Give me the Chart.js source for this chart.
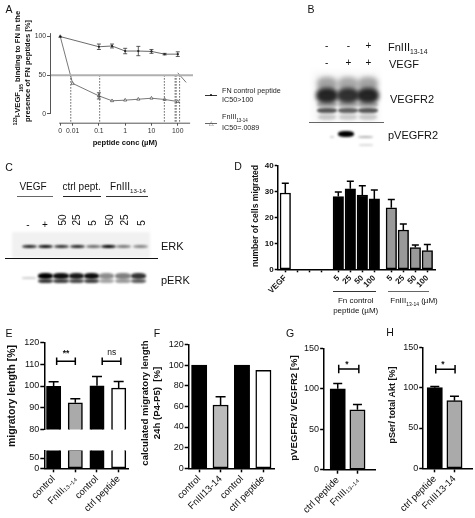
<!DOCTYPE html>
<html>
<head>
<meta charset="utf-8">
<style>
  html, body { margin: 0; padding: 0; background: #fff; }
  #page { position: relative; width: 475px; height: 518px; overflow: hidden; font-family: "Liberation Sans", Arial, sans-serif; color: #111; filter: blur(0.4px); }
  #page canvas { position: absolute; }
  .t { position: absolute; white-space: nowrap; line-height: 1; }
  .t sub, .t sup { font-size: 0.62em; line-height: 0; }
  .r { position: absolute; }
</style>
<script src="https://cdn.jsdelivr.net/npm/chart.js@4/dist/chart.umd.js"></script>
</head>
<body>
<div id="page"></div>
<script>
/* ── Data ─────────────────────────────────────────────── */
// A: log10 of the concentration, with the "0" tick parked left of 0.01
const aTickPos = [-2.47, -2, -1, 0, 1, 2];
const aTickLabels = ['0', '0.01', '0.1', '1', '10', '100'];
const aYTicks = [0, 50, 100];
const fnConc = [-2.47, -1, -0.5, 0, 0.5, 1, 1.5, 2];
const fnValues = [99.6, 86.5, 87.5, 81, 81, 80.5, 77, 77];
const fnErrs = [0, 3.5, 2.5, 3.5, 6, 2.5, 1, 3];
const fn1314Conc = [-2.47, -2, -1, -0.5, 0, 0.5, 1, 1.5, 2];
const fn1314Values = [99.6, 39.4, 23.3, 17, 17.8, 19, 20.3, 18.7, 16];
const fn1314Errs = [0, 0, 4, 0, 0, 0, 0, 0, 0];
const ic50Drops = [-2.07, -0.97, 1.49, 1.9, 1.94, 2.07];

// D
const dLabels = ['VEGF', '', '', '', '5', '25', '50', '100', '5', '25', '50', '100'];
const dValues = [29.5, null, null, null, 28.1, 31.1, 28.7, 27.2, 23.8, 15.2, 8.4, 7.2];
const dErrs = [3.8, 0, 0, 0, 1.8, 2.9, 3.6, 3.4, 3.2, 2.3, 1, 2.4];

// E
const eLabels = ['control', 'FnIII₁₃₋₁₄', 'control', 'ctrl peptide'];
const eValues = [99.9, 92.3, 100.1, 99];
const eErrs = [2, 1.8, 4.3, 3.1];

// F
const fLabels = ['control', 'FnIII13-14', 'control', 'ctrl peptide'];
const fValues = [100, 61.3, 100, 95];
const fErrs = [0, 8, 0, 0];

// G
const gLabels = ['ctrl peptide', 'FnIII₁₃₋₁₄'];
const gValues = [100, 74];
const gErrs = [6.5, 6.5];

// H
const hLabels = ['ctrl peptide', 'FnIII13-14'];
const hValues = [100, 83.9];
const hErrs = [1.6, 5.4];

// blots: how dark each lane is
const erkBands = [0.85, 0.95, 0.8, 0.85, 0.55, 1, 0.5, 0.45];
const perkBands = [1, 0.95, 0.9, 0.95, 0.45, 0.5, 0.8];
const vegfr2Bands = [0.85, 0.8, 0.85];

/* ── Helpers ──────────────────────────────────────────── */
Chart.defaults.font.family = '"Liberation Sans", Arial, sans-serif';
Chart.defaults.color = '#111';
Chart.defaults.animation = false;

const page = document.getElementById('page');

function text(html, x, y, size, opts = {}) {
    const d = document.createElement('div');
    d.className = 't';
    d.innerHTML = html;
    const ax = opts.anchor === 'left' ? '0' : '-50%';
    d.style.cssText = `left:${x}px;top:${y}px;font-size:${size}px;font-weight:${opts.bold ? 700 : 400};` +
        `transform:translate(${ax},-50%) rotate(${opts.rot || 0}deg);color:${opts.color || '#111'}`;
    page.appendChild(d);
}

function rect(x, y, w, h, bg, extra = '') {
    const d = document.createElement('div');
    d.className = 'r';
    d.style.cssText = `left:${x}px;top:${y}px;width:${w}px;height:${h}px;background:${bg};${extra}`;
    page.appendChild(d);
}

function band(cx, cy, w, h, alpha, blur = 1) {
    rect(cx - w / 2, cy - h / 2, w, h, `rgba(0,0,0,${alpha})`, `border-radius:40%;filter:blur(${blur}px)`);
}

// box = plot area on the page, pad = room round it for the axes
function makeChart(box, pad, config) {
    const [l, t, r, b] = box;
    const [pl, pt, pr, pb] = pad;
    const cx = Math.floor(l - pl), cy = Math.floor(t - pt);
    const canvas = document.createElement('canvas');
    canvas.style.left = cx + 'px';
    canvas.style.top = cy + 'px';
    canvas.width = Math.ceil(r + pr - cx);
    canvas.height = Math.ceil(b + pb - cy);
    page.appendChild(canvas);

    const o = config.options;
    o.responsive = false;
    o.layout = { autoPadding: false, padding: { top: t - cy, right: canvas.width - (r - cx), bottom: o.scales.x.display === false ? canvas.height - (b - cy) : 0, left: 0 } };
    o.scales.y.afterFit = s => { s.width = l - cx; };
    if (o.scales.x.display !== false) o.scales.x.afterFit = s => { s.height = canvas.height - (b - cy); };
    o.plugins = { legend: { display: false }, tooltip: { enabled: false } };
    return new Chart(canvas, config);
}

const errorBars = {
    id: 'errorBars',
    afterDatasetsDraw(chart) {
        const y = chart.scales.y, c = chart.ctx;
        chart.data.datasets.forEach((ds, di) => {
            if (!ds.errs) return;
            const pts = chart.getDatasetMeta(di).data;
            c.save();
            c.strokeStyle = ds.errColor || '#000';
            c.lineWidth = ds.errWidth || 1.5;
            ds.errs.forEach((e, i) => {
                const v = ds.data[i].y;
                if (!e || v === null) return;
                const x = pts[i].x, cap = ds.capW / 2;
                const top = y.getPixelForValue(v + e);
                const bot = ds.errBoth ? y.getPixelForValue(v - e) : y.getPixelForValue(v);
                c.beginPath();
                c.moveTo(x, bot); c.lineTo(x, top);
                c.moveTo(x - cap, top); c.lineTo(x + cap, top);
                if (ds.errBoth) { c.moveTo(x - cap, bot); c.lineTo(x + cap, bot); }
                c.stroke();
            });
            c.restore();
        });
    }
};

function brackets(list) {
    return {
        id: 'brackets',
        afterDatasetsDraw(chart) {
            const { x, y } = chart.scales, c = chart.ctx;
            c.save();
            c.strokeStyle = '#000';
            c.lineWidth = 1.5;
            list.forEach(([from, to, val, h]) => {
                const x0 = x.getPixelForValue(from), x1 = x.getPixelForValue(to), py = y.getPixelForValue(val);
                c.beginPath();
                c.moveTo(x0, py); c.lineTo(x1, py);
                c.moveTo(x0, py - h / 2); c.lineTo(x0, py + h / 2);
                c.moveTo(x1, py - h / 2); c.lineTo(x1, py + h / 2);
                c.stroke();
            });
            c.restore();
        }
    };
}

function barPanel(p) {
    const xs = p.positions || p.values.map((_, i) => i);
    const showX = p.labels !== null;
    return makeChart(p.box, p.pad, {
        type: 'bar',
        data: {
            datasets: [{
                data: p.values.map((v, i) => ({ x: xs[i], y: v })),
                errs: p.errs,
                capW: p.capW || 10,
                barThickness: p.thick,
                backgroundColor: p.colors,
                borderColor: '#000',
                borderWidth: p.borderW || 1.5,
                borderSkipped: false,
            }]
        },
        options: {
            scales: {
                x: {
                    type: 'linear', display: showX, offset: false, min: p.xRange[0], max: p.xRange[1],
                    afterBuildTicks: s => { s.ticks = xs.map(v => ({ value: v })); },
                    grid: { display: true, offset: false, drawOnChartArea: false, tickLength: p.tickLen || 4, tickWidth: 1.5, tickColor: '#000' },
                    border: { color: '#000', width: 1.5 },
                    ticks: {
                        autoSkip: false, minRotation: 45, maxRotation: 45, padding: 1, color: '#111',
                        font: { size: p.xFont || 9.5, weight: p.bold ? 'bold' : 'normal' },
                        callback: (v, i) => showX ? p.labels[i] : '',
                    },
                },
                y: {
                    min: p.yRange[0], max: p.yRange[1],
                    afterBuildTicks: s => { s.ticks = p.yTicks.map(v => ({ value: v })); },
                    grid: { display: true, drawOnChartArea: false, tickLength: p.tickLen || 4, tickWidth: 1.5, tickColor: '#000' },
                    border: { color: '#000', width: 1.5 },
                    ticks: { padding: 1, color: '#111', font: { size: p.yFont || 9, weight: p.bold ? 'bold' : 'normal' } },
                },
            },
        },
        plugins: [errorBars, brackets(p.brackets || [])],
    });
}

/* ── A: binding curves ────────────────────────────────── */
const aAxisLines = {
    id: 'aAxisLines',
    afterDraw(chart) {
        const { x, y } = chart.scales, c = chart.ctx;
        c.save();
        c.strokeStyle = '#555';
        c.lineWidth = 1;
        c.beginPath();
        c.moveTo(x.left + 0.5, y.getPixelForValue(104));
        c.lineTo(x.left + 0.5, y.getPixelForValue(0));
        c.moveTo(x.getPixelForValue(-2.51), y.bottom + 0.5);
        c.lineTo(x.getPixelForValue(2.47), y.bottom + 0.5);
        c.stroke();
        c.restore();
    }
};

const toXY = (xs, ys) => xs.map((v, i) => ({ x: v, y: ys[i] }));

makeChart([50, 30, 193, 122.7], [20, 2, 6, 16], {
    type: 'line',
    data: {
        datasets: [
            { data: toXY([-2.86, 2.58], [50, 50]), borderColor: '#b0b0b0', borderWidth: 2, pointRadius: 0 },
            { data: toXY([2, 2.32], [53, 40.6]), borderColor: '#555', borderWidth: 0.8, pointRadius: 0 },
            ...ic50Drops.map(v => ({ data: toXY([v, v], [50, -11.2]), borderColor: '#333', borderWidth: 0.8, borderDash: [1.5, 1.5], pointRadius: 0 })),
            {
                data: toXY(fnConc, fnValues), errs: fnErrs, errBoth: true, capW: 4, errWidth: 0.8, errColor: '#333',
                borderColor: '#444', borderWidth: 0.8, pointRadius: 1.1, pointBorderWidth: 0, pointBackgroundColor: '#111',
            },
            {
                data: toXY(fn1314Conc, fn1314Values), errs: fn1314Errs, errBoth: true, capW: 4, errWidth: 0.8, errColor: '#333',
                borderColor: '#555', borderWidth: 0.8, pointStyle: 'triangle', pointRadius: 1.8, pointBackgroundColor: '#fff', pointBorderColor: '#444', pointBorderWidth: 0.7,
            },
        ]
    },
    options: {
        scales: {
            x: {
                type: 'linear', min: -2.86, max: 2.58,
                afterBuildTicks: s => { s.ticks = aTickPos.map(v => ({ value: v })); },
                grid: { display: true, drawOnChartArea: false, tickLength: 3, tickColor: '#555' },
                border: { display: false },
                ticks: { autoSkip: false, maxRotation: 0, padding: 1, color: '#333', font: { size: 6.8 }, callback: (v, i) => aTickLabels[i] },
            },
            y: {
                min: -11.2, max: 104.1,
                afterBuildTicks: s => { s.ticks = aYTicks.map(v => ({ value: v })); },
                grid: { display: true, drawOnChartArea: false, tickLength: 3, tickColor: '#555' },
                border: { display: false },
                ticks: { padding: 1, color: '#333', font: { size: 6.8 } },
            },
        },
    },
    plugins: [errorBars, aAxisLines],
});

text('<sup>123</sup>I-VEGF<sub>165</sub> binding to FN in the', 17.5, 68, 7.6, { bold: true, rot: -90 });
text('presence of FN peptides [%]', 28, 71, 7.6, { bold: true, rot: -90 });
text('peptide conc (µM)', 125, 143, 7.6, { bold: true });

// legend
rect(205, 95, 12, 0.8, '#333');
rect(209.7, 94, 2.4, 2.4, '#111', 'border-radius:50%');
text('FN control peptide', 222, 91, 7.2, { anchor: 'left', color: '#222' });
text('IC50&gt;100', 222, 100, 7.2, { anchor: 'left', color: '#222' });
rect(205, 123, 12, 0.8, '#666');
text('△', 211, 123.2, 6, { color: '#555' });
text('FnIII<sub>13-14</sub>', 222, 117, 7.2, { anchor: 'left', color: '#222' });
text('IC50=.0089', 222, 128, 7.2, { anchor: 'left', color: '#222' });

/* ── B: VEGFR2 blot ───────────────────────────────────── */
const bLanes = [326.7, 348.3, 368.3];
rect(313, 72, 66, 50, '#f6f6f6', 'filter:blur(3px)');
bLanes.forEach((x, i) => {
    const a = vegfr2Bands[i];
    band(x, 84, 20, 14, a * 0.4, 2.5);
    band(x, 95, 22, 15, a, 2);
    band(x, 104, 20, 7, a * 0.35, 1.5);
    band(x, 110.5, 20, 5, a * 0.75, 1.2);
    band(x, 117, 18, 6, a * 0.22, 1.5);
});
band(346.3, 134, 16, 6.5, 1, 0.9);
band(332, 137, 4, 2, 0.2, 0.8);
band(365, 136.7, 15, 2, 0.3, 0.8);
band(366, 145, 14, 1.5, 0.15, 0.8);
rect(309, 122, 75, 1.3, '#666');
[['-', '-', '+'], ['-', '+', '+']].forEach((row, r) => {
    row.forEach((s, i) => text(s, bLanes[i], r === 0 ? 46 : 63, 10));
});
text('FnIII<sub>13-14</sub>', 388, 46.5, 11, { anchor: 'left' });
text('VEGF', 389, 64, 11, { anchor: 'left' });
text('VEGFR2', 390, 99, 11, { anchor: 'left' });
text('pVEGFR2', 388, 134.5, 11, { anchor: 'left' });

/* ── C: ERK blot ──────────────────────────────────────── */
const cErkLanes = [29, 45.7, 61.3, 77.3, 93.3, 108, 123.7, 140.3];
const cPerkLanes = [45.7, 61, 76.7, 91.7, 106.7, 123, 138.7];
text('VEGF', 33, 187.3, 10);
text('ctrl pept.', 81.7, 187.3, 10);
text('FnIII<sub>13-14</sub>', 128, 187.3, 10);
rect(17, 196, 36, 1.3, '#666');
rect(62.7, 196, 38, 1.3, '#222');
rect(106, 196, 42, 1.3, '#333');
text('-', 28, 225, 10);
text('+', 45, 225, 10);
['50', '25', '5', '50', '25', '5'].forEach((s, i) => {
    text(s, [63.3, 77.3, 93.3, 110, 125, 141.7][i], s === '5' ? 223 : 220, 10, { rot: -90 });
});
rect(12, 232, 138, 26, '#f1f1f1', 'filter:blur(1.5px)');
erkBands.forEach((a, i) => band(cErkLanes[i], 246.7, 15, 3.6, a, 0.8));
rect(5, 258.3, 152.7, 1, '#111');
band(29, 278, 14, 1.5, 0.2, 0.8);
perkBands.forEach((a, i) => {
    band(cPerkLanes[i], 276, 15.5, 5.5, a, 1.1);
    band(cPerkLanes[i], 281, 15.5, 4.5, a * 0.8, 1.1);
});
text('ERK', 161, 246, 11, { anchor: 'left' });
text('pERK', 161, 280, 11, { anchor: 'left' });

/* ── D: migrated cells ────────────────────────────────── */
const dShift = 5 / 12;
barPanel({
    box: [277.7, 164, 435.7, 269.3], pad: [25, 4, 4, 34],
    labels: dLabels, values: dValues, errs: dErrs,
    positions: dValues.map((_, i) => i + (i >= 4 ? dShift : 0) + (i >= 8 ? dShift : 0)),
    colors: ['#fff', '#fff', '#fff', '#fff', '#000', '#000', '#000', '#000', '#999', '#999', '#999', '#999'],
    thick: 10.5, capW: 7, xRange: [-0.633, 12.53], yRange: [0, 40], yTicks: [0, 10, 20, 30, 40],
    bold: true, xFont: 8, yFont: 8, tickLen: 3,
});
text('number of cells migrated', 255, 216, 8.6, { bold: true, rot: -90 });
rect(333, 291.2, 43, 1.2, '#333');
rect(388, 291.2, 41, 1.2, '#666');
text('Fn control', 355.7, 300.5, 8);
text('peptide (µM)', 355.7, 310.5, 8);
text('FnIII<sub>13-14</sub> (µM)', 414, 300.5, 8);

/* ── E: migratory length, broken axis ─────────────────── */
const eColors = ['#000', '#aaa', '#000', '#fff'];
barPanel({
    box: [44.3, 340.3, 128, 433.7], pad: [25, 4, 4, 2],
    labels: null, values: eValues, errs: eErrs, colors: eColors,
    thick: 14.3, capW: 10, xRange: [-0.43, 3.43], yRange: [80, 120], yTicks: [80, 90, 100, 110, 120],
    brackets: [[0.14, 1, 111.3, 7.5], [2.24, 3.1, 111.3, 7.5]],
});
barPanel({
    box: [44.3, 444, 128, 468.3], pad: [25, 0, 4, 55],
    labels: eLabels, values: eValues, errs: null, colors: eColors,
    thick: 14.3, xRange: [-0.43, 3.43], yRange: [0, 87], yTicks: [0, 50],
});
text('migratory length [%]', 11, 396, 10.5, { bold: true, rot: -90 });
text('**', 66, 353, 8.5, { bold: true });
text('ns', 111.7, 352, 8.5);

/* ── F: calculated migratory length ───────────────────── */
barPanel({
    box: [188.7, 342, 274.3, 468.3], pad: [25, 4, 4, 55],
    labels: fLabels, values: fValues, errs: fErrs, colors: ['#000', '#bbb', '#000', '#fff'],
    thick: 15.3, capW: 10, xRange: [-0.49, 3.51], yRange: [0, 120], yTicks: [0, 20, 40, 60, 80, 100, 120],
});
text('calculated migratory length', 145, 403, 9.6, { bold: true, rot: -90 });
text('24h (P4-P5)&nbsp; [%]', 156.7, 403, 9.6, { bold: true, rot: -90 });

/* ── G: pVEGFR2 ───────────────────────────────────────── */
barPanel({
    box: [322.7, 346.7, 375, 469.7], pad: [25, 4, 4, 48],
    labels: gLabels, values: gValues, errs: gErrs, colors: ['#000', '#aaa'],
    thick: 15.3, capW: 9, xRange: [-0.69, 1.89], yRange: [0, 150], yTicks: [0, 50, 100, 150],
    brackets: [[0.05, 1.07, 124.4, 8.5]],
});
text('pVEGFR2/ VEGFR2 [%]', 294, 408, 9.6, { bold: true, rot: -90 });
text('*', 347, 364, 8.5, { bold: true });

/* ── H: pSer ──────────────────────────────────────────── */
barPanel({
    box: [420, 345, 472, 468.3], pad: [25, 4, 3, 49],
    labels: hLabels, values: hValues, errs: hErrs, colors: ['#000', '#aaa'],
    thick: 15.3, capW: 9, xRange: [-0.586, 1.89], yRange: [0, 150], yTicks: [0, 50, 100, 150],
    brackets: [[0.05, 1.03, 123, 8.5]],
});
text('pSer/ total Akt [%]', 392.3, 405, 9, { bold: true, rot: -90 });
text('*', 443, 364, 8.5, { bold: true });

/* ── Panel letters ────────────────────────────────────── */
[['A', 9, 8.5], ['B', 311, 9], ['C', 9, 167], ['D', 238, 166], ['E', 9, 333], ['F', 157, 333], ['G', 290, 333], ['H', 390, 332]]
    .forEach(([s, x, y]) => text(s, x, y, 10.5));
</script>
</body>
</html>
